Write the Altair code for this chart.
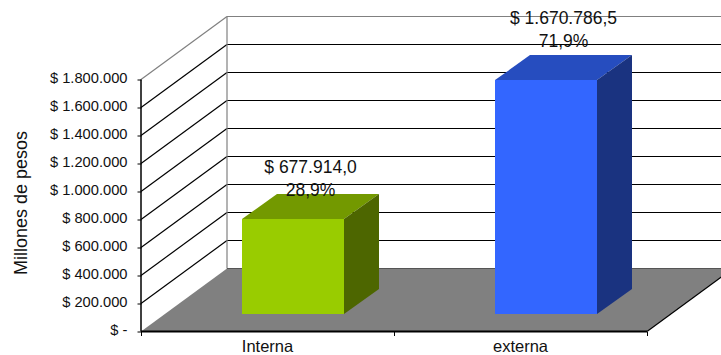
import altair as alt
import pandas as pd

# Chart values
categories = ["Interna", "externa"]
amounts = [677914.0, 1670786.5]
amount_labels = ["$ 677.914,0", "$ 1.670.786,5"]
share_labels = ["28,9%", "71,9%"]
front_colors = ["#99CC00", "#3366FF"]
top_colors = ["#739900", "#264DBF"]
side_colors = ["#4D6600", "#1A3380"]
y_ticks = [0, 200000, 400000, 600000, 800000, 1000000, 1200000, 1400000, 1600000, 1800000]
x_ticks = [0, 1, 2]

# Oblique projection: x is in category slots, y in pesos
PX_X = 253.0             # pixels per category slot
PX_Y = 252.0 / 1800000   # pixels per peso
WALL_DX = 86 / PX_X
WALL_DY = 63 / PX_Y
BAR_W = 102 / PX_X
BAR_INSET_X = 25.5 / PX_X
BAR_INSET_Y = 17.5 / PX_Y
BAR_DX = 35 / PX_X
BAR_DY = 25 / PX_Y
VIEW_W, VIEW_H = 580, 315

x_scale = alt.Scale(domain=[0, VIEW_W / PX_X], nice=False, zero=False)
y_scale = alt.Scale(domain=[0, VIEW_H / PX_Y], nice=False, zero=False)
FONT = "Liberation Sans"

y_label = "datum.value == 0 ? '$ -' : '$ ' + replace(format(datum.value, ','), regexp(',', 'g'), '.')"
x_axis = alt.Axis(values=x_ticks, labels=False, domain=False, grid=False, tickSize=4,
                  tickColor="#000000", tickWidth=1)
y_axis = alt.Axis(values=y_ticks, labelExpr=y_label, domain=False, grid=False, tickSize=4,
                  tickColor="#000000", tickWidth=1, labelFont=FONT, labelFontSize=14.7,
                  labelColor="#111111", labelPadding=10, labelOffset=-1, titleFont=FONT,
                  titleFontSize=18, titleFontWeight="normal", titleColor="#111111",
                  titleX=-111, titleY=186)


def X():
    return alt.X("x:Q", scale=x_scale, axis=x_axis, title=None)


def Y():
    return alt.Y("y:Q", scale=y_scale, axis=y_axis, title="Millones de pesos")


# Floor of the box
floor = alt.Chart(pd.DataFrame({
    "y": [0.0, WALL_DY],
    "x": [0.0, WALL_DX],
    "x2": [2.0, 2.0 + WALL_DX],
})).mark_area(color="#808080", orient="horizontal").encode(x=X(), x2="x2:Q", y=Y())

# Gridlines on the side and back walls, with the walls' grey outline on top
rules = []
for v in y_ticks[1:-1]:
    rules.append({"x": 0.0, "x2": WALL_DX, "y": v, "y2": v + WALL_DY, "c": "#000000"})
    rules.append({"x": WALL_DX, "x2": 2.0 + WALL_DX, "y": v + WALL_DY, "y2": v + WALL_DY, "c": "#000000"})
top = y_ticks[-1]
rules += [
    {"x": 0.0, "x2": WALL_DX, "y": top, "y2": top + WALL_DY, "c": "#808080"},
    {"x": WALL_DX, "x2": 2.0 + WALL_DX, "y": top + WALL_DY, "y2": top + WALL_DY, "c": "#808080"},
    {"x": WALL_DX, "x2": WALL_DX, "y": WALL_DY, "y2": top + WALL_DY, "c": "#808080"},
    {"x": WALL_DX, "x2": 2.0 + WALL_DX, "y": WALL_DY, "y2": WALL_DY, "c": "#555555"},
    {"x": 2.0, "x2": 2.0 + WALL_DX, "y": 0.0, "y2": WALL_DY, "c": "#000000"},
]
grid = alt.Chart(pd.DataFrame(rules)).mark_rule(strokeWidth=1.2).encode(
    x=X(), x2="x2:Q", y=Y(), y2="y2:Q", color=alt.Color("c:N", scale=None)
)

# Front axis lines
axis_lines = pd.DataFrame([
    {"x": 0.0, "x2": 0.0, "y": 0.0, "y2": top, "w": 1.5},
    {"x": 0.0, "x2": 2.0, "y": 0.0, "y2": 0.0, "w": 2.0},
])
axis_rules = alt.Chart(axis_lines).mark_rule(color="#000000").encode(
    x=X(), x2="x2:Q", y=Y(), y2="y2:Q", strokeWidth=alt.StrokeWidth("w:Q", scale=None)
)

# Each bar is a front rectangle plus two parallelograms
fronts, tops, sides = [], [], []
for i, amount in enumerate(amounts):
    left = i + 0.5 - BAR_W / 2 + BAR_INSET_X
    right = left + BAR_W
    base = BAR_INSET_Y
    head = base + amount
    fronts.append({"x": left, "x2": right, "y": base, "y2": head, "c": front_colors[i]})
    tops += [
        {"x": left, "x2": right, "y": head, "c": top_colors[i]},
        {"x": left + BAR_DX, "x2": right + BAR_DX, "y": head + BAR_DY, "c": top_colors[i]},
    ]
    sides += [
        {"x": right, "y": head, "y2": base, "c": side_colors[i]},
        {"x": right + BAR_DX, "y": head + BAR_DY, "y2": base + BAR_DY, "c": side_colors[i]},
    ]

bar_fronts = alt.Chart(pd.DataFrame(fronts)).mark_rect().encode(
    x=X(), x2="x2:Q", y=Y(), y2="y2:Q", color=alt.Color("c:N", scale=None)
)
bar_tops = alt.Chart(pd.DataFrame(tops)).mark_area(orient="horizontal").encode(
    x=X(), x2="x2:Q", y=Y(), color=alt.Color("c:N", scale=None)
)
bar_sides = alt.Chart(pd.DataFrame(sides)).mark_area(orient="vertical").encode(
    x=X(), y=Y(), y2="y2:Q", color=alt.Color("c:N", scale=None)
)

# Category names under the front axis
cat_labels = alt.Chart(pd.DataFrame({
    "x": [i + 0.5 for i in range(len(categories))],
    "y": [0.0] * len(categories),
    "t": categories,
})).mark_text(font=FONT, fontSize=16.5, color="#111111", dy=15.5).encode(x=X(), y=Y(), text="t:N")

# Value and share above each bar
label_gaps = [(-26, -3), (-36, -13)]
value_layers = []
for i, amount in enumerate(amounts):
    cx = i + 0.5 + BAR_INSET_X + BAR_DX / 2
    cy = BAR_INSET_Y + amount + BAR_DY
    row = pd.DataFrame({"x": [cx], "y": [cy], "a": [amount_labels[i]], "b": [share_labels[i]]})
    for field, gap in zip(["a", "b"], label_gaps[i]):
        value_layers.append(
            alt.Chart(row).mark_text(font=FONT, fontSize=17.5, color="#111111", dy=gap).encode(
                x=X(), y=Y(), text=f"{field}:N"
            )
        )

chart = alt.layer(
    floor, grid, axis_rules, bar_fronts, bar_tops, bar_sides, cat_labels, *value_layers
).properties(
    width=VIEW_W,
    height=VIEW_H,
    padding={"left": 141, "top": 16.5, "right": 0, "bottom": 23.5},
    autosize=alt.AutoSizeParams(type="none"),
    background="#ffffff",
).configure_view(stroke=None)

chart.save("out.html", embed_options={"renderer": "svg", "actions": False})
